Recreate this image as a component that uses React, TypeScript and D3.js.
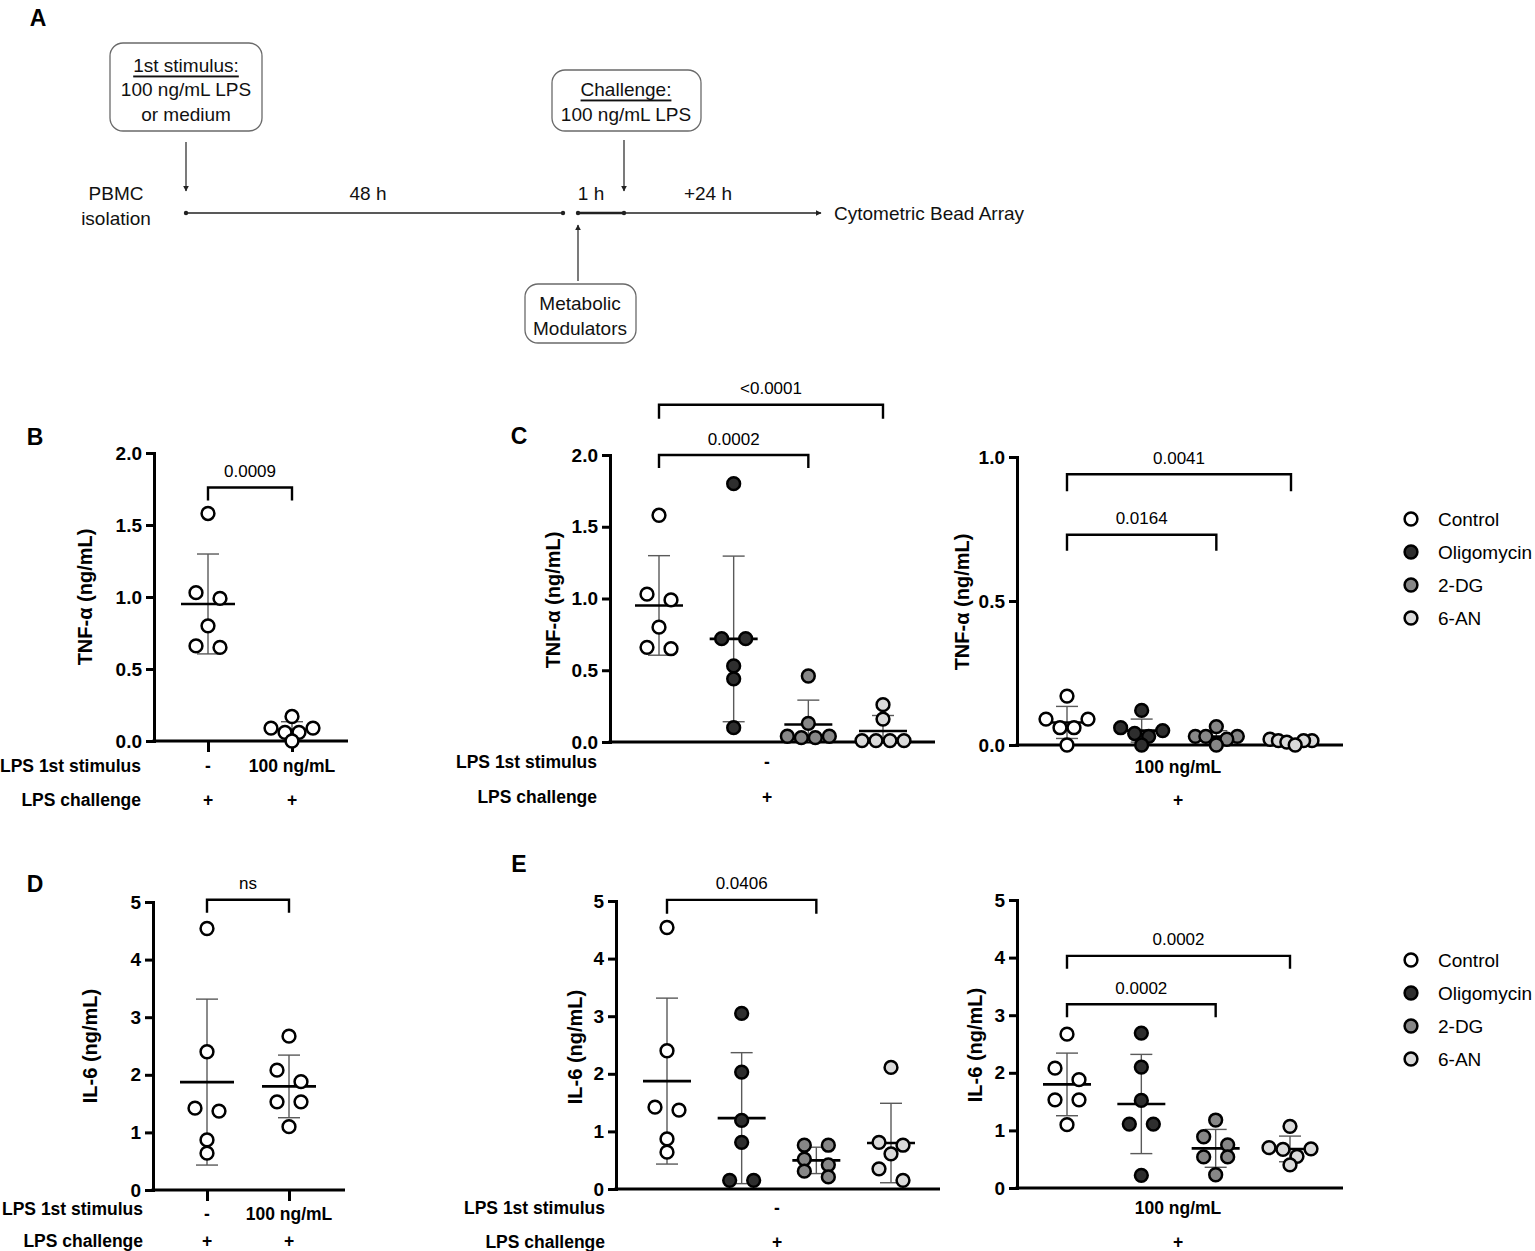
import { useEffect, useRef } from 'react';
import * as d3 from 'd3';

const FONT = "'Liberation Sans', Arial, Helvetica, sans-serif";
const WIDTH = 1535;
const HEIGHT = 1251;
const DOT_R = 6.4;
const DOT_STROKE = 2.5;

// treatment groups and their symbol fills
const treatments = ['Control', 'Oligomycin', '2-DG', '6-AN'];
const treatmentFills = ['#ffffff', '#2e2e2e', '#878787', '#dadada'];
const stimulusGroups = ['Medium', 'LPS'];

// category rows under B and D
const firstStimulusLevels = ['-', '100 ng/mL'];
const challengeLevels = ['+', '+'];

// TNF-α (ng/mL), no 1st stimulus, LPS challenge
const tnfMediumControl = [1.58, 1.03, 0.99, 0.8, 0.66, 0.65];
const tnfMediumOligomycin = [1.8, 0.72, 0.72, 0.53, 0.44, 0.1];
const tnfMedium2DG = [0.46, 0.13, 0.04, 0.04, 0.03, 0.03];
const tnfMedium6AN = [0.26, 0.16, 0.01, 0.01, 0.01, 0.01];

// TNF-α (ng/mL), 100 ng/mL LPS 1st stimulus, LPS challenge
const tnfLpsControl = [0.17, 0.09, 0.09, 0.06, 0.06, 0.0];
const tnfLpsOligomycin = [0.12, 0.06, 0.05, 0.04, 0.03, 0.0];
const tnfLps2DG = [0.064, 0.03, 0.03, 0.03, 0.02, 0.0];
const tnfLps6AN = [0.02, 0.015, 0.015, 0.015, 0.01, 0.0];

// IL-6 (ng/mL), no 1st stimulus, LPS challenge
const il6MediumControl = [4.54, 2.4, 1.42, 1.37, 0.87, 0.64];
const il6MediumOligomycin = [3.05, 2.03, 1.19, 0.81, 0.15, 0.15];
const il6Medium2DG = [0.76, 0.76, 0.52, 0.42, 0.31, 0.21];
const il6Medium6AN = [2.11, 0.81, 0.76, 0.61, 0.35, 0.15];

// IL-6 (ng/mL), 100 ng/mL LPS 1st stimulus, LPS challenge
const il6LpsControl = [2.67, 2.08, 1.88, 1.53, 1.53, 1.1];
const il6LpsOligomycin = [2.69, 2.1, 1.52, 1.11, 1.11, 0.22];
const il6Lps2DG = [1.18, 0.89, 0.75, 0.54, 0.54, 0.23];
const il6Lps6AN = [1.07, 0.7, 0.68, 0.67, 0.55, 0.4];

// axis ticks
const tnfTicks2 = [0, 0.5, 1, 1.5, 2];
const tnfTicks1 = [0, 0.5, 1];
const il6Ticks = [0, 1, 2, 3, 4, 5];

interface Bracket {
  from: number;
  to: number;
  level: number;
  drop: number;
  label: string;
}

interface TextItem {
  text: string;
  x: number;
  y: number;
}

interface PanelSpec {
  names: string[];
  groups: number[][];
  fills: string[];
  axisX: number;
  yTop: number;
  yBottom: number;
  xEnd: number;
  groupFirst: number;
  groupLast: number;
  yMax: number;
  yTicks: number[];
  tickFormat: string;
  yLabel: string;
  yLabelX: number;
  yLabelY: number;
  xTicks: boolean;
  meanHalf: number;
  brackets: Bracket[];
  rowTitles: TextItem[];
  rowValues: TextItem[];
}

// GraphPad-like scatter: rows of nearby values spread symmetrically
function swarmOffsets(values: number[], y: (v: number) => number): number[] {
  const idx = d3.range(values.length).sort((a, b) => values[b] - values[a]);
  const rows: number[][] = [];
  idx.forEach((i) => {
    const row = rows[rows.length - 1];
    if (row && Math.abs(y(values[i]) - y(values[row[0]])) <= 9) row.push(i);
    else rows.push([i]);
  });
  const merged: number[][] = [];
  rows.forEach((row) => {
    const prev = merged[merged.length - 1];
    if (
      prev &&
      prev.length === 1 &&
      row.length === 1 &&
      Math.abs(y(values[row[0]]) - y(values[prev[0]])) < 12.5
    ) {
      prev.push(row[0]);
    } else {
      merged.push(row.slice());
    }
  });
  const offsets = values.map(() => 0);
  merged.forEach((row) => {
    const n = row.length;
    if (n === 1) return;
    const step = n === 2 ? 24 : Math.min(14, 42 / (n - 1));
    const slots = d3.range(n).map((k) => (k - (n - 1) / 2) * step);
    const order: number[] = [];
    let lo = 0;
    let hi = n - 1;
    while (lo <= hi) {
      order.push(lo++);
      if (lo <= hi) order.push(hi--);
    }
    row.forEach((i, k) => {
      offsets[i] = slots[order[k]];
    });
  });
  return offsets;
}

function drawPanel(svg: d3.Selection<SVGSVGElement, unknown, null, undefined>, spec: PanelSpec) {
  const g = svg.append('g');

  const y = d3.scaleLinear().domain([0, spec.yMax]).range([spec.yBottom, spec.yTop]);
  const x = d3.scalePoint<string>().domain(spec.names).range([spec.groupFirst, spec.groupLast]);

  // x axis
  g.append('line')
    .attr('x1', spec.axisX - 1.5)
    .attr('x2', spec.xEnd)
    .attr('y1', spec.yBottom)
    .attr('y2', spec.yBottom)
    .attr('stroke', '#000')
    .attr('stroke-width', 3);

  if (spec.xTicks) {
    g.append('g')
      .attr('transform', `translate(0,${spec.yBottom})`)
      .call(d3.axisBottom(x).tickSize(11).tickSizeOuter(0).tickFormat(() => ''))
      .call((a) => a.select('.domain').remove())
      .selectAll('.tick line')
      .attr('stroke', '#000')
      .attr('stroke-width', 3);
  }

  // y axis
  const yAxis = g
    .append('g')
    .attr('transform', `translate(${spec.axisX},0)`)
    .call(
      d3
        .axisLeft(y)
        .tickValues(spec.yTicks)
        .tickFormat((d) => d3.format(spec.tickFormat)(d as number))
        .tickSize(8)
        .tickSizeOuter(0)
        .tickPadding(4)
    );
  yAxis.select('.domain').attr('stroke', '#000').attr('stroke-width', 3).attr('stroke-linecap', 'square');
  yAxis.selectAll('.tick line').attr('stroke', '#000').attr('stroke-width', 3);
  yAxis
    .selectAll('.tick text')
    .attr('font-family', FONT)
    .attr('font-size', 19)
    .attr('font-weight', 'bold')
    .attr('fill', '#000');

  g.append('text')
    .attr('transform', `translate(${spec.yLabelX},${spec.yLabelY}) rotate(-90)`)
    .attr('text-anchor', 'middle')
    .attr('dominant-baseline', 'central')
    .attr('font-family', FONT)
    .attr('font-size', 20)
    .attr('font-weight', 'bold')
    .text(spec.yLabel);

  // groups: SD bars, mean, points
  spec.groups.forEach((vals, gi) => {
    const cx = x(spec.names[gi])!;
    const mean = d3.mean(vals)!;
    const sd = d3.deviation(vals)!;
    const hi = mean + sd;
    const lo = Math.max(0, mean - sd);

    g.append('line')
      .attr('x1', cx)
      .attr('x2', cx)
      .attr('y1', y(hi))
      .attr('y2', y(lo))
      .attr('stroke', '#5a5a5a')
      .attr('stroke-width', 1.4);

    const caps = mean - sd > 0 ? [hi, lo] : [hi];
    caps.forEach((v) => {
      g.append('line')
        .attr('x1', cx - 11)
        .attr('x2', cx + 11)
        .attr('y1', y(v))
        .attr('y2', y(v))
        .attr('stroke', '#5a5a5a')
        .attr('stroke-width', 1.4);
    });

    g.append('line')
      .attr('x1', cx - spec.meanHalf)
      .attr('x2', cx + spec.meanHalf)
      .attr('y1', y(mean))
      .attr('y2', y(mean))
      .attr('stroke', '#000')
      .attr('stroke-width', 2.6);

    const offsets = swarmOffsets(vals, y);
    g.append('g')
      .selectAll('circle')
      .data(vals)
      .join('circle')
      .attr('cx', (_, i) => cx + offsets[i])
      .attr('cy', (d) => y(d))
      .attr('r', DOT_R)
      .attr('fill', spec.fills[gi])
      .attr('stroke', '#000')
      .attr('stroke-width', DOT_STROKE);
  });

  // significance brackets
  spec.brackets.forEach((b) => {
    const x0 = x(spec.names[b.from])!;
    const x1 = x(spec.names[b.to])!;
    const by = y(b.level);
    g.append('path')
      .attr('d', `M${x0},${by + b.drop}V${by}H${x1}V${by + b.drop}`)
      .attr('fill', 'none')
      .attr('stroke', '#000')
      .attr('stroke-width', 2.4);
    g.append('text')
      .attr('x', (x0 + x1) / 2)
      .attr('y', by - 16)
      .attr('text-anchor', 'middle')
      .attr('dominant-baseline', 'central')
      .attr('font-family', FONT)
      .attr('font-size', 17)
      .text(b.label);
  });

  spec.rowTitles.forEach((t) => {
    g.append('text')
      .attr('x', t.x)
      .attr('y', t.y)
      .attr('text-anchor', 'end')
      .attr('dominant-baseline', 'central')
      .attr('font-family', FONT)
      .attr('font-size', 17.5)
      .attr('font-weight', 'bold')
      .text(t.text);
  });

  spec.rowValues.forEach((t) => {
    g.append('text')
      .attr('x', t.x)
      .attr('y', t.y)
      .attr('text-anchor', 'middle')
      .attr('dominant-baseline', 'central')
      .attr('font-family', FONT)
      .attr('font-size', 17.5)
      .attr('font-weight', 'bold')
      .text(t.text);
  });
}

function drawLegend(svg: d3.Selection<SVGSVGElement, unknown, null, undefined>, top: number) {
  const legend = svg.append('g').attr('transform', `translate(1411,${top})`);
  const item = legend
    .selectAll('g')
    .data(treatments)
    .join('g')
    .attr('transform', (_, i) => `translate(0,${i * 33})`);
  item
    .append('circle')
    .attr('r', DOT_R)
    .attr('fill', (_, i) => treatmentFills[i])
    .attr('stroke', '#000')
    .attr('stroke-width', DOT_STROKE);
  item
    .append('text')
    .attr('x', 27)
    .attr('dominant-baseline', 'central')
    .attr('font-family', FONT)
    .attr('font-size', 19)
    .text((d) => d);
}

function drawTimeline(svg: d3.Selection<SVGSVGElement, unknown, null, undefined>) {
  const g = svg.append('g');
  const ink = '#222';

  const defs = svg.append('defs');
  defs
    .append('marker')
    .attr('id', 'arrow')
    .attr('viewBox', '0 0 10 10')
    .attr('refX', 9)
    .attr('refY', 5)
    .attr('markerWidth', 6)
    .attr('markerHeight', 6)
    .attr('markerUnits', 'userSpaceOnUse')
    .attr('orient', 'auto')
    .append('path')
    .attr('d', 'M0,0L10,5L0,10z')
    .attr('fill', ink);

  const label = (text: string, cx: number, cy: number, anchor = 'middle', underline = false) =>
    g
      .append('text')
      .attr('x', cx)
      .attr('y', cy)
      .attr('text-anchor', anchor)
      .attr('dominant-baseline', 'central')
      .attr('font-family', FONT)
      .attr('font-size', 19)
      .attr('fill', '#111')
      .attr('text-decoration', underline ? 'underline' : null)
      .text(text);

  const box = (x0: number, y0: number, w: number, h: number) =>
    g
      .append('rect')
      .attr('x', x0)
      .attr('y', y0)
      .attr('width', w)
      .attr('height', h)
      .attr('rx', 13)
      .attr('fill', '#fff')
      .attr('stroke', '#6a6a6a')
      .attr('stroke-width', 1.3);

  const arrow = (x1: number, y1: number, x2: number, y2: number, w = 1.2) =>
    g
      .append('line')
      .attr('x1', x1)
      .attr('y1', y1)
      .attr('x2', x2)
      .attr('y2', y2)
      .attr('stroke', ink)
      .attr('stroke-width', w)
      .attr('marker-end', 'url(#arrow)');

  // stimulus boxes
  box(110, 43, 152, 88);
  label('1st stimulus:', 186, 65, 'middle', true);
  label('100 ng/mL LPS', 186, 89);
  label('or medium', 186, 114);
  arrow(186, 142, 186, 191);

  box(552, 70, 149, 61);
  label('Challenge:', 626, 89, 'middle', true);
  label('100 ng/mL LPS', 626, 114);
  arrow(624, 140, 624, 191);

  box(525, 284, 111, 59);
  label('Metabolic', 580, 303);
  label('Modulators', 580, 328);
  arrow(578, 281, 578, 225);

  // time axis
  const ty = 213;
  g.append('line').attr('x1', 186).attr('x2', 563).attr('y1', ty).attr('y2', ty).attr('stroke', ink).attr('stroke-width', 1.6);
  g.append('line').attr('x1', 578).attr('x2', 624).attr('y1', ty).attr('y2', ty).attr('stroke', ink).attr('stroke-width', 2.6);
  arrow(624, ty, 821, ty, 1.6);
  [186, 563, 578, 624].forEach((px) => {
    g.append('circle').attr('cx', px).attr('cy', ty).attr('r', 2.2).attr('fill', ink);
  });

  label('PBMC', 116, 193);
  label('isolation', 116, 218);
  label('48 h', 368, 193);
  label('1 h', 591, 193);
  label('+24 h', 708, 193);
  label('Cytometric Bead Array', 834, ty, 'start');
}

export default function App() {
  const svgRef = useRef<SVGSVGElement>(null);

  useEffect(() => {
    if (!svgRef.current) return;
    const svg = d3.select(svgRef.current);
    svg.selectAll('*').remove();

    drawTimeline(svg);

    const common = {
      tickFormat: '.1f',
      xTicks: false,
      meanHalf: 24,
      rowTitles: [] as TextItem[],
      rowValues: [] as TextItem[],
    };

    const panels: PanelSpec[] = [
      {
        ...common,
        names: stimulusGroups,
        groups: [tnfMediumControl, tnfLpsControl],
        fills: [treatmentFills[0], treatmentFills[0]],
        axisX: 154,
        yTop: 453,
        yBottom: 741,
        xEnd: 348,
        groupFirst: 208,
        groupLast: 292,
        yMax: 2,
        yTicks: tnfTicks2,
        yLabel: 'TNF-α (ng/mL)',
        yLabelX: 85,
        yLabelY: 597,
        xTicks: true,
        meanHalf: 27,
        brackets: [{ from: 0, to: 1, level: 1.76, drop: 13, label: '0.0009' }],
        rowTitles: [
          { text: 'LPS 1st stimulus', x: 141, y: 766 },
          { text: 'LPS challenge', x: 141, y: 800 },
        ],
        rowValues: [
          ...firstStimulusLevels.map((t, i) => ({ text: t, x: [208, 292][i], y: 766 })),
          ...challengeLevels.map((t, i) => ({ text: t, x: [208, 292][i], y: 800 })),
        ],
      },
      {
        ...common,
        names: treatments,
        groups: [tnfMediumControl, tnfMediumOligomycin, tnfMedium2DG, tnfMedium6AN],
        fills: treatmentFills,
        axisX: 610,
        yTop: 455,
        yBottom: 742,
        xEnd: 935,
        groupFirst: 659,
        groupLast: 883,
        yMax: 2,
        yTicks: tnfTicks2,
        yLabel: 'TNF-α (ng/mL)',
        yLabelX: 553,
        yLabelY: 600,
        brackets: [
          { from: 0, to: 2, level: 2.0, drop: 13, label: '0.0002' },
          { from: 0, to: 3, level: 2.35, drop: 14, label: '<0.0001' },
        ],
        rowTitles: [
          { text: 'LPS 1st stimulus', x: 597, y: 762 },
          { text: 'LPS challenge', x: 597, y: 797 },
        ],
        rowValues: [
          { text: firstStimulusLevels[0], x: 767, y: 762 },
          { text: challengeLevels[0], x: 767, y: 797 },
        ],
      },
      {
        ...common,
        names: treatments,
        groups: [tnfLpsControl, tnfLpsOligomycin, tnfLps2DG, tnfLps6AN],
        fills: treatmentFills,
        axisX: 1017,
        yTop: 457,
        yBottom: 745,
        xEnd: 1343,
        groupFirst: 1067,
        groupLast: 1291,
        yMax: 1,
        yTicks: tnfTicks1,
        yLabel: 'TNF-α (ng/mL)',
        yLabelX: 962,
        yLabelY: 602,
        brackets: [
          { from: 0, to: 3, level: 0.94, drop: 17, label: '0.0041' },
          { from: 0, to: 2, level: 0.73, drop: 16, label: '0.0164' },
        ],
        rowValues: [
          { text: firstStimulusLevels[1], x: 1178, y: 767 },
          { text: challengeLevels[1], x: 1178, y: 800 },
        ],
      },
      {
        ...common,
        names: stimulusGroups,
        groups: [il6MediumControl, il6LpsControl],
        fills: [treatmentFills[0], treatmentFills[0]],
        axisX: 153,
        yTop: 902,
        yBottom: 1190,
        xEnd: 345,
        groupFirst: 207,
        groupLast: 289,
        yMax: 5,
        yTicks: il6Ticks,
        tickFormat: 'd',
        yLabel: 'IL-6 (ng/mL)',
        yLabelX: 90,
        yLabelY: 1046,
        xTicks: true,
        meanHalf: 27,
        brackets: [{ from: 0, to: 1, level: 5.04, drop: 13, label: 'ns' }],
        rowTitles: [
          { text: 'LPS 1st stimulus', x: 143, y: 1209 },
          { text: 'LPS challenge', x: 143, y: 1241 },
        ],
        rowValues: [
          ...firstStimulusLevels.map((t, i) => ({ text: t, x: [207, 289][i], y: 1214 })),
          ...challengeLevels.map((t, i) => ({ text: t, x: [207, 289][i], y: 1241 })),
        ],
      },
      {
        ...common,
        names: treatments,
        groups: [il6MediumControl, il6MediumOligomycin, il6Medium2DG, il6Medium6AN],
        fills: treatmentFills,
        axisX: 616,
        yTop: 901,
        yBottom: 1189,
        xEnd: 940,
        groupFirst: 667,
        groupLast: 891,
        yMax: 5,
        yTicks: il6Ticks,
        tickFormat: 'd',
        yLabel: 'IL-6 (ng/mL)',
        yLabelX: 575,
        yLabelY: 1047,
        brackets: [{ from: 0, to: 2, level: 5.02, drop: 14, label: '0.0406' }],
        rowTitles: [
          { text: 'LPS 1st stimulus', x: 605, y: 1208 },
          { text: 'LPS challenge', x: 605, y: 1242 },
        ],
        rowValues: [
          { text: firstStimulusLevels[0], x: 777, y: 1208 },
          { text: challengeLevels[0], x: 777, y: 1242 },
        ],
      },
      {
        ...common,
        names: treatments,
        groups: [il6LpsControl, il6LpsOligomycin, il6Lps2DG, il6Lps6AN],
        fills: treatmentFills,
        axisX: 1017,
        yTop: 900,
        yBottom: 1188,
        xEnd: 1343,
        groupFirst: 1067,
        groupLast: 1290,
        yMax: 5,
        yTicks: il6Ticks,
        tickFormat: 'd',
        yLabel: 'IL-6 (ng/mL)',
        yLabelX: 975,
        yLabelY: 1045,
        brackets: [
          { from: 0, to: 3, level: 4.03, drop: 13, label: '0.0002' },
          { from: 0, to: 2, level: 3.19, drop: 13, label: '0.0002' },
        ],
        rowValues: [
          { text: firstStimulusLevels[1], x: 1178, y: 1208 },
          { text: challengeLevels[1], x: 1178, y: 1242 },
        ],
      },
    ];

    panels.forEach((p) => drawPanel(svg, p));

    drawLegend(svg, 519);
    drawLegend(svg, 960);

    // panel letters
    const letters: [string, number, number][] = [
      ['A', 38, 18],
      ['B', 35, 437],
      ['C', 519, 436],
      ['D', 35, 884],
      ['E', 519, 864],
    ];
    svg
      .append('g')
      .selectAll('text')
      .data(letters)
      .join('text')
      .attr('x', (d) => d[1])
      .attr('y', (d) => d[2])
      .attr('text-anchor', 'middle')
      .attr('dominant-baseline', 'central')
      .attr('font-family', FONT)
      .attr('font-size', 23)
      .attr('font-weight', 'bold')
      .text((d) => d[0]);
  }, []);

  return (
    <svg
      ref={svgRef}
      width={WIDTH}
      height={HEIGHT}
      style={{ position: 'absolute', left: 0, top: 0, background: '#fff' }}
    />
  );
}
